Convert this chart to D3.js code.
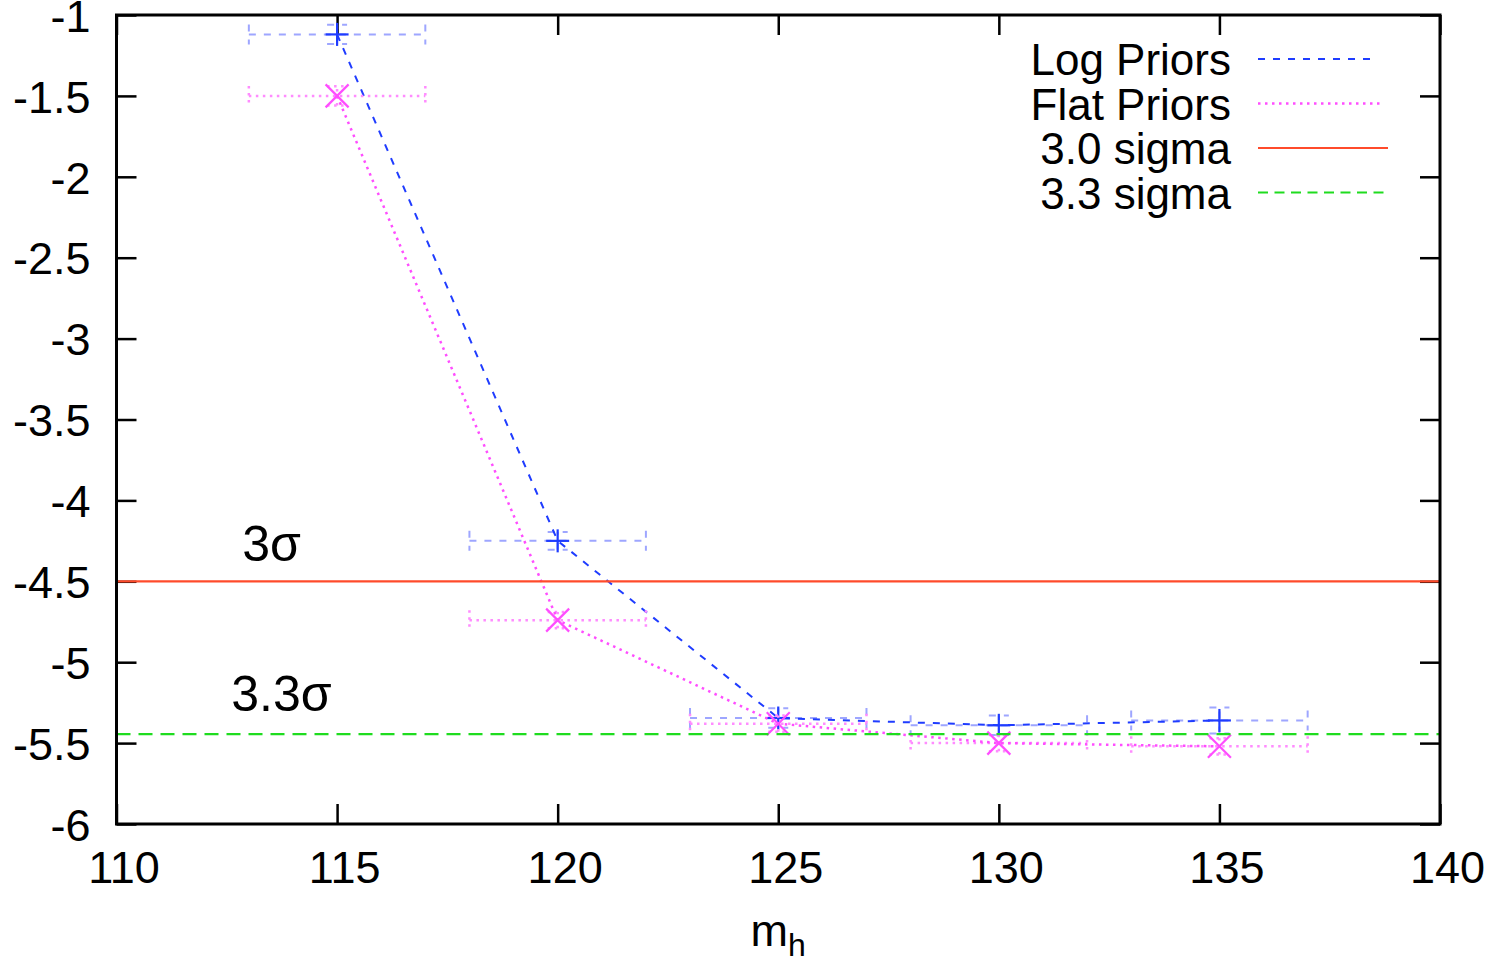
<!DOCTYPE html>
<html>
<head>
<meta charset="utf-8">
<script src="https://cdn.jsdelivr.net/npm/d3@7/dist/d3.min.js"></script>
<style>
  html, body { margin: 0; padding: 0; background: #fff; }
  svg { display: block; font-family: "Liberation Sans", Arial, sans-serif; }
</style>
</head>
<body>
<svg id="chart" width="1494" height="963"></svg>
<script>
// Higgs mass hypotheses (GeV) and the x-extent of each bin
const massPoints = [115, 120, 125, 130, 135];
const massErr    = [2, 2, 2, 2, 2];

// Log-evidence with log priors
const logPriors    = [-1.12, -4.25, -5.345, -5.39, -5.36];
const logPriorsErr = [0.06, 0.055, 0.06, 0.06, 0.08];

// Log-evidence with flat priors
const flatPriors    = [-1.50, -4.74, -5.38, -5.50, -5.52];
const flatPriorsErr = [0.06, 0.05, 0.05, 0.05, 0.05];

// Significance thresholds
const thresholdNames  = ["3.0 sigma", "3.3 sigma"];
const thresholdValues = [-4.5, -5.445];
const thresholdLabels = ["3σ", "3.3σ"];

// Axis ticks
const xTicks = [110, 115, 120, 125, 130, 135, 140];
const yTicks = [-1, -1.5, -2, -2.5, -3, -3.5, -4, -4.5, -5, -5.5, -6];

const plot = { left: 116.5, right: 1440, top: 15, bottom: 824 };
const svg = d3.select("#chart");

const x = d3.scaleLinear().domain([110, 140]).range([plot.left, plot.right]);
const y = d3.scaleLinear().domain([-6, -1]).range([plot.bottom, plot.top]);

const tickFont = 45;

// Axes with inward ticks on all four sides
function styleAxis(g) {
  g.select(".domain").remove();
  g.selectAll(".tick line").attr("stroke", "#000").attr("stroke-width", 2.5);
  g.selectAll(".tick text").attr("fill", "#000").attr("font-size", tickFont)
    .attr("font-family", "Liberation Sans, Arial, sans-serif");
}

svg.append("g")
  .attr("transform", `translate(0,${plot.bottom})`)
  .call(d3.axisBottom(x).tickValues(xTicks).tickSize(-20).tickPadding(27).tickFormat(d => String(d)))
  .call(styleAxis)
  .call(g => g.selectAll(".tick text").attr("dx", 7));

svg.append("g")
  .attr("transform", `translate(0,${plot.top})`)
  .call(d3.axisTop(x).tickValues(xTicks).tickSize(-20).tickFormat(""))
  .call(styleAxis);

svg.append("g")
  .attr("transform", `translate(${plot.left},0)`)
  .call(d3.axisLeft(y).tickValues(yTicks).tickSize(-20).tickPadding(26).tickFormat(d => String(d)))
  .call(styleAxis)
  .call(g => g.selectAll(".tick text").attr("dy", "0.36em"));

svg.append("g")
  .attr("transform", `translate(${plot.right},0)`)
  .call(d3.axisRight(y).tickValues(yTicks).tickSize(-20).tickFormat(""))
  .call(styleAxis);

// Series styles
const series = [
  { name: "Log Priors", values: logPriors, errs: logPriorsErr,
    line: "#1f3cff", bar: "#9ea6ff", dash: "7,8", width: 2, marker: "plus" },
  { name: "Flat Priors", values: flatPriors, errs: flatPriorsErr,
    line: "#ff4dff", bar: "#ff8cff", dash: "2.5,4.5", width: 2.5, marker: "cross" }
];

const dataG = svg.append("g");

series.forEach(s => {
  const pts = massPoints.map((m, i) => ({ m, v: s.values[i], e: s.errs[i], me: massErr[i] }));
  const eb = dataG.append("g")
    .attr("stroke", s.bar).attr("stroke-width", s.width).attr("fill", "none")
    .attr("stroke-dasharray", s.dash);
  const cap = 10;
  pts.forEach(p => {
    const cx = x(p.m), cy = y(p.v);
    // horizontal error bar with end caps
    eb.append("line").attr("x1", x(p.m - p.me)).attr("x2", x(p.m + p.me)).attr("y1", cy).attr("y2", cy);
    eb.append("line").attr("x1", x(p.m - p.me)).attr("x2", x(p.m - p.me)).attr("y1", cy - cap).attr("y2", cy + cap);
    eb.append("line").attr("x1", x(p.m + p.me)).attr("x2", x(p.m + p.me)).attr("y1", cy - cap).attr("y2", cy + cap);
    // vertical error bar with end caps
    eb.append("line").attr("x1", cx).attr("x2", cx).attr("y1", y(p.v - p.e)).attr("y2", y(p.v + p.e));
    eb.append("line").attr("x1", cx - cap).attr("x2", cx + cap).attr("y1", y(p.v - p.e)).attr("y2", y(p.v - p.e));
    eb.append("line").attr("x1", cx - cap).attr("x2", cx + cap).attr("y1", y(p.v + p.e)).attr("y2", y(p.v + p.e));
  });

  // connecting line
  dataG.append("path")
    .datum(pts)
    .attr("fill", "none")
    .attr("stroke", s.line).attr("stroke-width", s.width)
    .attr("stroke-dasharray", s.dash)
    .attr("d", d3.line().x(d => x(d.m)).y(d => y(d.v)));

  // point markers
  const r = 11.5;
  const mk = dataG.append("g").attr("stroke", s.line).attr("stroke-width", 2.2);
  pts.forEach(p => {
    const cx = x(p.m), cy = y(p.v);
    if (s.marker === "plus") {
      mk.append("line").attr("x1", cx - r).attr("x2", cx + r).attr("y1", cy).attr("y2", cy);
      mk.append("line").attr("x1", cx).attr("x2", cx).attr("y1", cy - r).attr("y2", cy + r);
    } else {
      mk.append("line").attr("x1", cx - r).attr("x2", cx + r).attr("y1", cy - r).attr("y2", cy + r);
      mk.append("line").attr("x1", cx - r).attr("x2", cx + r).attr("y1", cy + r).attr("y2", cy - r);
    }
  });
});

// Threshold lines
const thresholdStyles = [
  { color: "#ff4b2b", dash: null, width: 2.2 },
  { color: "#1fdc1f", dash: "14,8", width: 2.2 }
];
thresholdValues.forEach((v, i) => {
  const st = thresholdStyles[i];
  svg.append("line")
    .attr("x1", plot.left).attr("x2", plot.right)
    .attr("y1", y(v)).attr("y2", y(v))
    .attr("stroke", st.color).attr("stroke-width", st.width)
    .attr("stroke-dasharray", st.dash);
});

// Threshold annotations
const annotPos = [{ mx: 112.85, dy: -20 }, { mx: 112.6, dy: -23 }];
thresholdLabels.forEach((t, i) => {
  svg.append("text")
    .attr("x", x(annotPos[i].mx))
    .attr("y", y(thresholdValues[i]) + annotPos[i].dy)
    .attr("font-size", 50).attr("fill", "#000")
    .text(t);
});

// Legend
const legendItems = [
  { label: "Log Priors",  color: series[0].line, dash: series[0].dash, width: 2, end: 1378 },
  { label: "Flat Priors", color: series[1].line, dash: series[1].dash, width: 2.5, end: 1383 },
  { label: thresholdNames[0], color: thresholdStyles[0].color, dash: null, width: 2.2, end: 1388 },
  { label: thresholdNames[1], color: thresholdStyles[1].color, dash: "10,6.5", width: 2.2, end: 1388 }
];
const legend = svg.append("g");
legendItems.forEach((it, i) => {
  const cy = 59 + i * 44.5;
  legend.append("text")
    .attr("x", 1231).attr("y", cy + 16)
    .attr("text-anchor", "end")
    .attr("font-size", 44).attr("fill", "#000")
    .text(it.label);
  legend.append("line")
    .attr("x1", 1258).attr("x2", it.end)
    .attr("y1", cy).attr("y2", cy)
    .attr("stroke", it.color).attr("stroke-width", it.width)
    .attr("stroke-dasharray", it.dash);
});

// Plot border
svg.append("rect")
  .attr("x", plot.left).attr("y", plot.top)
  .attr("width", plot.right - plot.left).attr("height", plot.bottom - plot.top)
  .attr("fill", "none").attr("stroke", "#000").attr("stroke-width", 3);

// X-axis title m_h
const xt = svg.append("text")
  .attr("x", (plot.left + plot.right) / 2)
  .attr("y", 946)
  .attr("text-anchor", "middle")
  .attr("font-size", 45).attr("fill", "#000");
xt.append("tspan").text("m");
xt.append("tspan").attr("font-size", 32).attr("dy", 10).text("h");
</script>
</body>
</html>
